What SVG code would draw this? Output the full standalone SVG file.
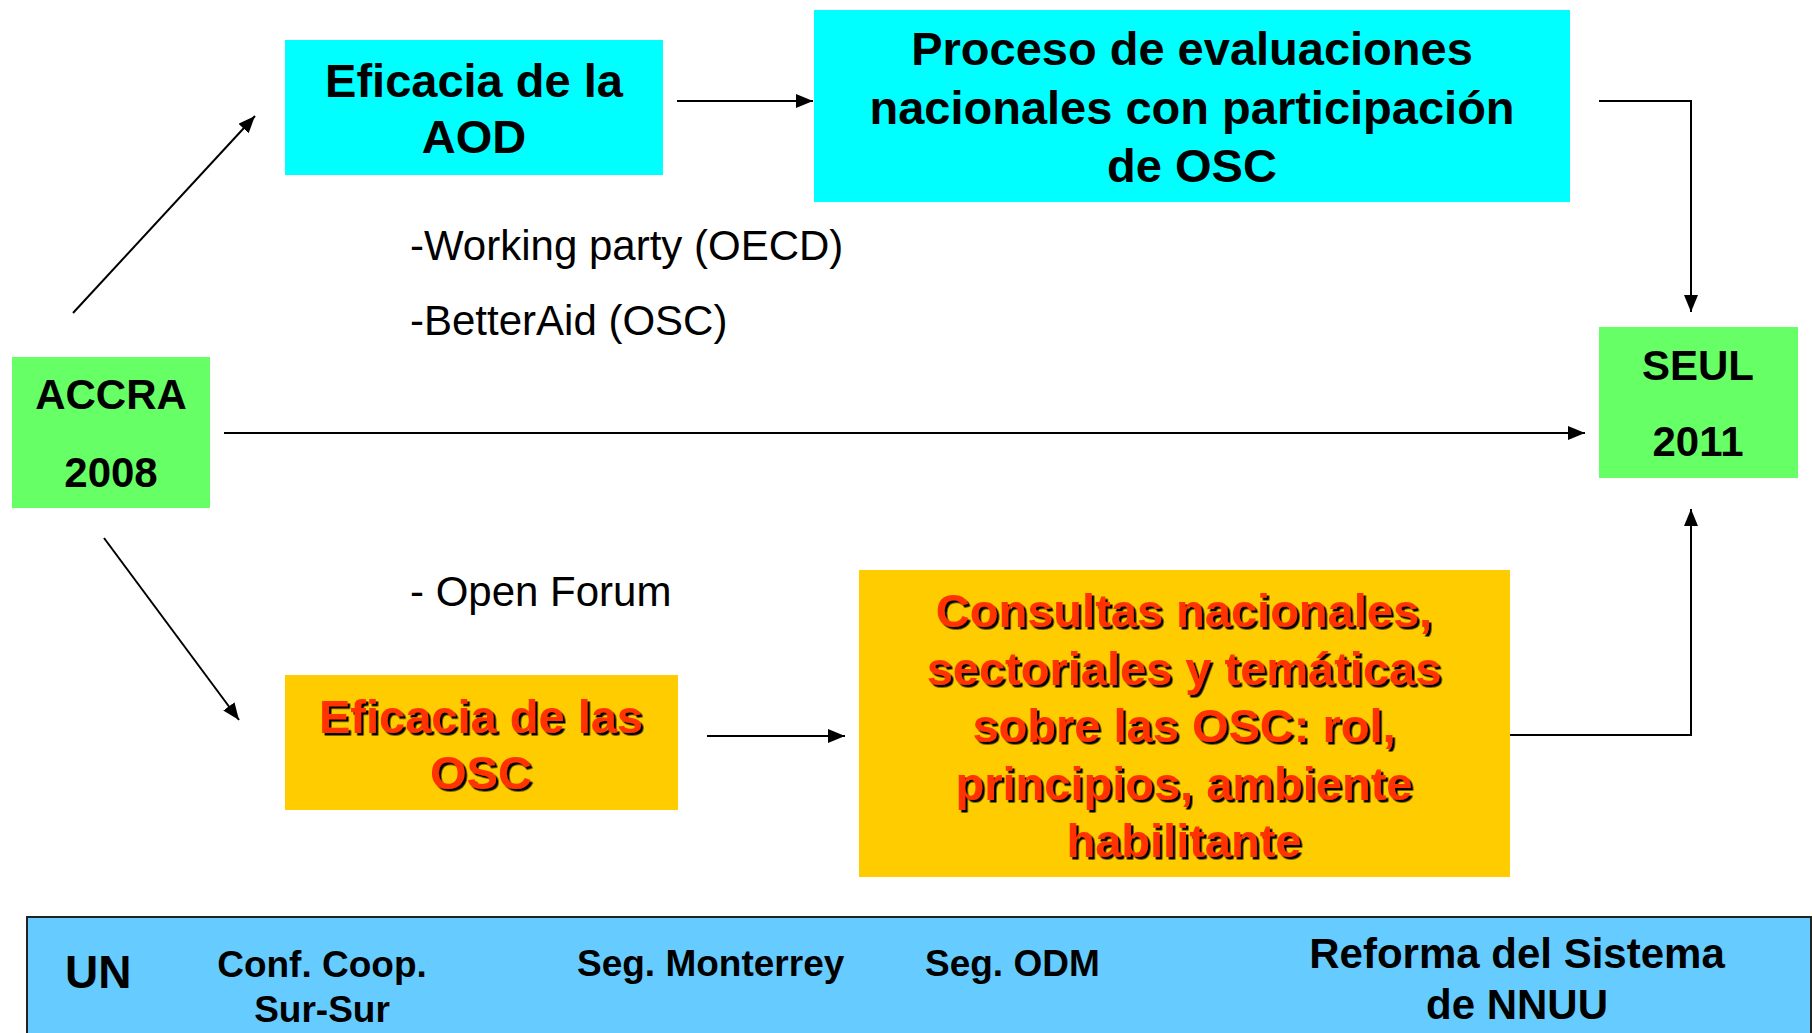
<svg xmlns="http://www.w3.org/2000/svg" width="1812" height="1033" viewBox="0 0 1812 1033">
<defs>
<marker id="arr" markerUnits="userSpaceOnUse" markerWidth="18" markerHeight="14" refX="17" refY="7" orient="auto">
<path d="M0,0 L17,7 L0,14 z" fill="#000"/>
</marker>
<filter id="shadow" x="-5%" y="-5%" width="110%" height="110%">
<feDropShadow dx="2.5" dy="2.5" stdDeviation="0" flood-color="#000" flood-opacity="1"/>
</filter>
</defs>
<style>
text{font-family:"Liberation Sans",Arial,sans-serif}
.b{font-weight:bold}
.big{font-size:47px;font-weight:bold;text-anchor:middle}
.mid{font-size:42px;font-weight:bold;text-anchor:middle}
.red{fill:#FF3300;filter:url(#shadow)}
.lab{font-size:42px}
.bar{font-size:37px;font-weight:bold}
.c{stroke:#000;stroke-width:2;fill:none;marker-end:url(#arr)}
</style>
<rect width="1812" height="1033" fill="#fff"/>
<g id="connectors">
<line class="c" x1="73" y1="313" x2="255" y2="116"/>
<line class="c" x1="677" y1="101" x2="813" y2="101"/>
<polyline class="c" points="1599,101 1691,101 1691,312"/>
<line class="c" x1="224" y1="433" x2="1585" y2="433"/>
<line class="c" x1="104" y1="538" x2="239" y2="720"/>
<line class="c" x1="707" y1="736" x2="845" y2="736"/>
<polyline class="c" points="1510,735 1691,735 1691,509"/>
</g>
<g id="aod">
<rect x="285" y="40" width="378" height="135" fill="#00FFFF"/>
<text class="big" x="474" y="97">Eficacia de la</text>
<text class="big" x="474" y="153">AOD</text>
</g>
<g id="proceso">
<rect x="814" y="10" width="756" height="192" fill="#00FFFF"/>
<text class="big" x="1192" y="65">Proceso de evaluaciones</text>
<text class="big" x="1192" y="124">nacionales con participación</text>
<text class="big" x="1192" y="182">de OSC</text>
</g>
<g id="accra">
<rect x="12" y="357" width="198" height="151" fill="#66FF66"/>
<text class="mid" x="111" y="409">ACCRA</text>
<text class="mid" x="111" y="487">2008</text>
</g>
<g id="seul">
<rect x="1599" y="327" width="199" height="151" fill="#66FF66"/>
<text class="mid" x="1698" y="380">SEUL</text>
<text class="mid" x="1698" y="456">2011</text>
</g>
<g id="osc">
<rect x="285" y="675" width="393" height="135" fill="#FFCC00"/>
<text class="big red" x="481" y="733">Eficacia de las</text>
<text class="big red" x="481" y="789">OSC</text>
</g>
<g id="consultas">
<rect x="859" y="570" width="651" height="307" fill="#FFCC00"/>
<text class="big red" x="1184" y="627">Consultas nacionales,</text>
<text class="big red" x="1184" y="685">sectoriales y temáticas</text>
<text class="big red" x="1184" y="742">sobre las OSC: rol,</text>
<text class="big red" x="1184" y="800">principios, ambiente</text>
<text class="big red" x="1184" y="857">habilitante</text>
</g>
<g id="labels">
<text class="lab" x="410" y="260">-Working party (OECD)</text>
<text class="lab" x="410" y="335">-BetterAid (OSC)</text>
<text class="lab" x="410" y="606">- Open Forum</text>
</g>
<g id="un-bar">
<rect x="27" y="917" width="1784" height="130" fill="#66CCFF" stroke="#222" stroke-width="2"/>
<text class="b" x="65" y="988" font-size="46">UN</text>
<text class="bar" x="322" y="977" text-anchor="middle">Conf. Coop.</text>
<text class="bar" x="322" y="1022" text-anchor="middle">Sur-Sur</text>
<text class="bar" x="577" y="976">Seg. Monterrey</text>
<text class="bar" x="925" y="976">Seg. ODM</text>
<text class="mid" x="1517" y="968">Reforma del Sistema</text>
<text class="mid" x="1517" y="1019">de NNUU</text>
</g>
</svg>
